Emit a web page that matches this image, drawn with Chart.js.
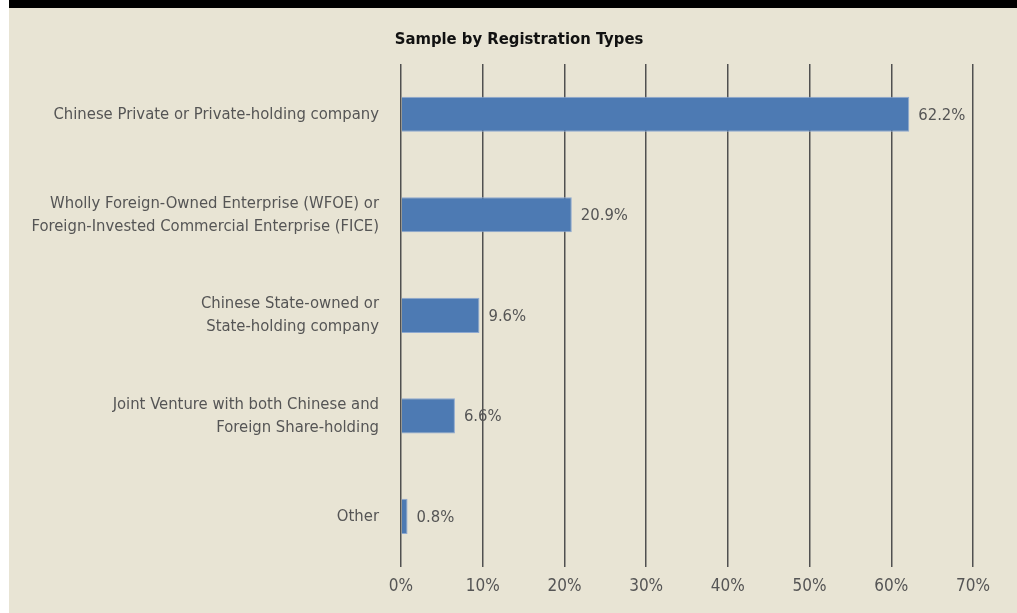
<!DOCTYPE html>
<html>
<head>
<meta charset="utf-8">
<script src="https://cdn.jsdelivr.net/npm/chart.js@4"></script>
<style>
  html, body { margin: 0; padding: 0; background: #ffffff; }
  #wrap {
    position: absolute; left: 9px; top: 0;
    width: 1008px; height: 613px;
    background: #e8e4d4;
    border-top: 8px solid #000;
    box-sizing: border-box;
  }
  #box { position: absolute; left: 0; top: 0; width: 1008px; height: 605px; }
</style>
</head>
<body>
<div id="wrap"><div id="box"><canvas id="myChart"></canvas></div></div>
<script>
// dados
const categorias = [
    'Chinese Private or Private-holding company',
    ['Wholly Foreign-Owned Enterprise (WFOE) or', 'Foreign-Invested Commercial Enterprise (FICE)'],
    ['Chinese State-owned or', 'State-holding company'],
    ['Joint Venture with both Chinese and', 'Foreign Share-holding'],
    'Other'
];
const valores = [62.2, 20.9, 9.6, 6.6, 0.8];
const ticksX = ['0%', '10%', '20%', '30%', '40%', '50%', '60%', '70%'];
const titulo = 'Sample by Registration Types';

const fonte = '"Liberation Sans Narrow", "DejaVu Sans Condensed", "Roboto", sans-serif';
const cinza = '#555555';

// título e rótulos de valor
const rotulos = {
    id: 'rotulos',
    afterDraw(chart) {
        const ctx = chart.ctx;
        ctx.save();
        ctx.font = 'bold 16.5px ' + fonte;
        ctx.fillStyle = '#111111';
        ctx.textAlign = 'center';
        ctx.textBaseline = 'middle';
        ctx.fillText(titulo, 510, 32);
        ctx.restore();
    },
    afterDatasetsDraw(chart) {
        const ctx = chart.ctx;
        const meta = chart.getDatasetMeta(0);
        ctx.save();
        ctx.font = '16.5px ' + fonte;
        ctx.fillStyle = cinza;
        ctx.textAlign = 'left';
        ctx.textBaseline = 'middle';
        meta.data.forEach(function (bar, i) {
            ctx.fillText(valores[i].toFixed(1) + '%', bar.x + 9, bar.y + 1);
        });
        ctx.restore();
    }
};

document.addEventListener('DOMContentLoaded', function () {
    const config = {
        type: 'bar',
        data: {
            labels: categorias,
            datasets: [{
                data: valores,
                backgroundColor: '#4d7ab3',
                borderColor: '#8ea9d0',
                borderWidth: 1,
                barPercentage: 0.35,
                categoryPercentage: 1
            }]
        },
        options: {
            indexAxis: 'y',
            responsive: true,
            maintainAspectRatio: false,
            animation: false,
            layout: { padding: { left: 0, right: 44, top: 56, bottom: 6 } },
            plugins: {
                legend: { display: false },
                tooltip: { enabled: false },
                title: { display: false }
            },
            scales: {
                x: {
                    min: 0,
                    max: 70,
                    border: { display: false },
                    grid: { color: '#505050', lineWidth: 1.5, drawTicks: false },
                    ticks: {
                        stepSize: 10,
                        padding: 10,
                        color: cinza,
                        font: { family: fonte, size: 17 },
                        callback: function (v, i) { return ticksX[i]; }
                    }
                },
                y: {
                    border: { display: false },
                    grid: { display: false, drawTicks: false },
                    ticks: {
                        padding: 22,
                        color: cinza,
                        font: { family: fonte, size: 16.5, lineHeight: 1.4 }
                    },
                    afterFit: function (scale) { scale.width = 392; }
                }
            }
        },
        plugins: [rotulos]
    };

    var ctx = document.getElementById('myChart').getContext('2d');
    new Chart(ctx, config);
});
</script>
</body>
</html>
